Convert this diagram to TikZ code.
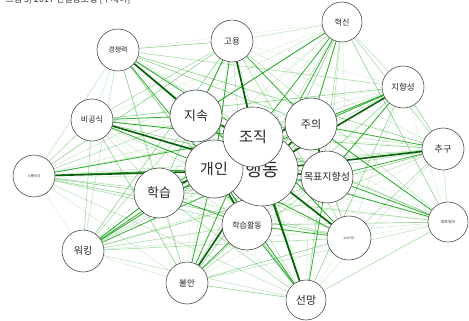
\documentclass[tikz,border=0pt]{standalone}
\usepackage{fontspec}
\newfontfamily\kr{Noto Sans CJK KR}
\pgfdeclarelayer{edges}
\pgfsetlayers{edges,main}
\newcommand{\fsz}[1]{\kr\fontsize{#1}{#1}\selectfont}
\begin{document}
\begin{tikzpicture}[x=1pt,y=-1pt,
  kw/.style={circle,draw=black!75,line width=0.55pt,fill=white,inner sep=0pt,text=black!85},
  e0/.style={draw=green!60!black,opacity=0.14,line width=0.5pt},
  e1/.style={draw=green!60!black,opacity=0.2,line width=0.5pt},
  e2/.style={draw=green!60!black,opacity=0.27,line width=0.55pt},
  e3/.style={draw=green!60!black,opacity=0.35,line width=0.6pt},
  e4/.style={draw=green!60!black,opacity=0.45,line width=0.6pt},
  med/.style={draw=green!60!black,opacity=0.75,line width=0.8pt},
  strong/.style={draw=green!35!black,opacity=0.95,line width=1.6pt}]
\useasboundingbox (0,0) rectangle (469,321);
\node[anchor=base west,font=\fsz{9},text=black!80] (cap) at (2,3) {그림 3) 2017 연결망모형 [주제어]};
\node[kw,minimum size=42pt,font=\fsz{7}] (gj) at (118,50) {경쟁력};
\node[kw,minimum size=42pt,font=\fsz{8.5}] (gy) at (232,41) {고용};
\node[kw,minimum size=40pt,font=\fsz{8}] (hs) at (342,22) {혁신};
\node[kw,minimum size=42pt,font=\fsz{8}] (bg) at (92,120) {비공식};
\node[kw,minimum size=42pt,font=\fsz{3.5}] (st) at (34,176) {소통의식};
\node[kw,minimum size=42pt,font=\fsz{8.5}] (jh) at (403,87) {지향성};
\node[kw,minimum size=42pt,font=\fsz{9}] (cg) at (443,149) {추구};
\node[kw,minimum size=40pt,font=\fsz{4}] (nw) at (448,222) {네트워크};
\node[kw,minimum size=44pt,font=\fsz{3}] (sd) at (349,238) {소비자다};
\node[kw,minimum size=42pt,font=\fsz{10}] (wk) at (83,251) {워킹};
\node[kw,minimum size=42pt,font=\fsz{8.5}] (ba) at (187,283) {불안};
\node[kw,minimum size=40pt,font=\fsz{11}] (sm) at (306,300) {선망};
\node[kw,minimum size=50pt,font=\fsz{8}] (ha) at (247,225) {학습활동};
\node[kw,minimum size=50pt,font=\fsz{13}] (hk) at (159,193) {학습};
\node[kw,minimum size=72pt,font=\fsz{18}] (hd) at (262,170) {\raisebox{-4pt}{행동}};
\node[kw,minimum size=52pt,font=\fsz{10}] (mp) at (327,177) {목표지향성};
\node[kw,minimum size=52pt,font=\fsz{11}] (ju) at (311,124) {주의};
\node[kw,minimum size=52pt,font=\fsz{13}] (js) at (196,116) {지속};
\node[kw,minimum size=58pt,font=\fsz{15}] (gi) at (214,169) {개인};
\node[kw,minimum size=60pt,font=\fsz{15}] (jj) at (253,137) {조직};
\begin{pgfonlayer}{edges}
\foreach \a [count=\i] in {gj,gy,hs,bg,st,jh,cg,nw,sd,wk,ba,sm,ha,hk,hd,mp,ju,js,gi,jj}{
  \foreach \b [count=\j] in {gj,gy,hs,bg,st,jh,cg,nw,sd,wk,ba,sm,ha,hk,hd,mp,ju,js,gi,jj}{
    \ifnum\j>\i
      \pgfmathtruncatemacro\k{mod(\i*7+\j*11,5)}
      \draw[e\k] (\a) -- (\b);
    \fi
  }
}
\foreach \a/\b in {wk/hk,wk/gi,wk/hd,ba/gi,ba/ha,sm/ha,sm/mp,sm/gi,nw/mp,nw/hd,nw/ju,cg/mp,cg/ju,jh/ju,jh/mp,jh/gi,hs/ju,hs/hd,hs/jj,hs/js,gy/js,gy/gi,gy/ju,gj/gi,gj/jj,gj/hd,bg/js,bg/gi,bg/jj,st/gi,st/jj,hk/ha,hk/hd,hk/jj,sd/gi,sd/ha,sd/jj,wk/jj,ba/jj,sm/jj}
  \draw[med] (\a) -- (\b);
\foreach \a/\b in {js/jj,jj/gi,gi/hk,jj/ju,hd/mp,gi/ha,hd/sd,hd/sm,ba/hd,st/hd,bg/hd,gj/js,gy/hd,jh/hd,cg/hd,ju/mp,hd/ha,js/gi,ju/hd}
  \draw[strong] (\a) -- (\b);
\end{pgfonlayer}
\end{tikzpicture}
\end{document}
